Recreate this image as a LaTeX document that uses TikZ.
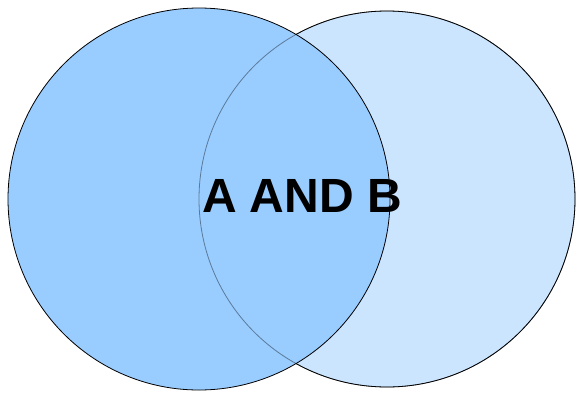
\documentclass[tikz,border=0pt]{standalone}
\usepackage{fontspec}
\setmainfont{Liberation Sans}
\definecolor{setA}{HTML}{99CCFF}
\definecolor{setB}{HTML}{CCE5FF}

\begin{document}
\begin{tikzpicture}[x=1pt,y=1pt]
\useasboundingbox (0,0) rectangle (577,392);
\fill[setB] (387,193) circle (188);
\draw[black, line width=0.8pt] (387,193) circle (188);
\fill[setA] (199,193) circle (191);
\draw[black, line width=0.8pt] (199,193) circle (191);
\draw[black, draw opacity=0.4, line width=0.8pt] (387,193) circle (188);
\node[font=\fontsize{48}{48}\bfseries] (both) at (302,196) {A AND B};
\end{tikzpicture}
\end{document}
